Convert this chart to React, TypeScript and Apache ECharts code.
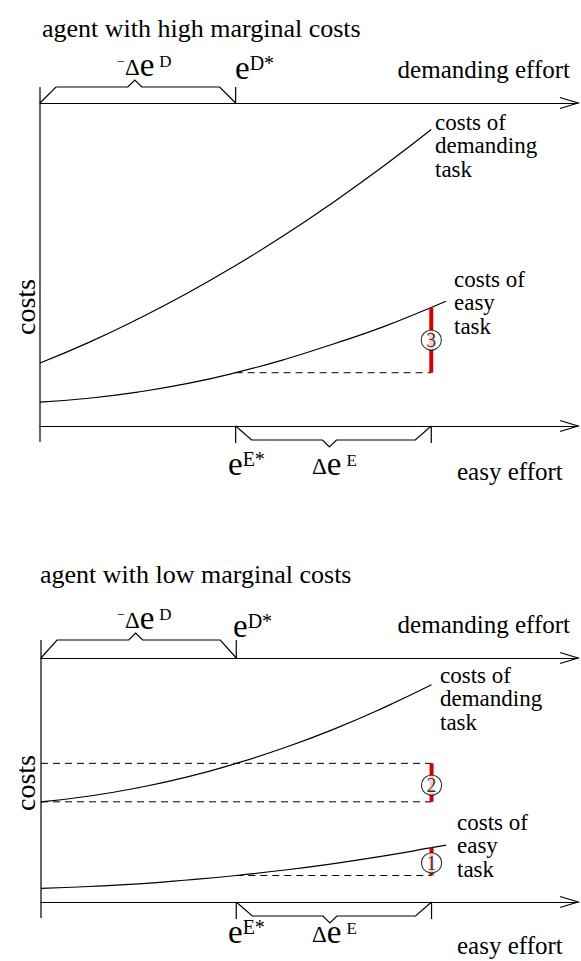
import { useEffect, useRef } from "react";
import * as echarts from "echarts";

// ---------- data ----------
const EFFORT_MAX = 11;
const HIGH_COST_MAX = 10;
const LOW_COST_MAX = 7.55;

const demandingEffort = [0, 1, 2, 3, 4, 5, 6, 7, 8];
const easyEffort = [0, 1, 2, 3, 4, 5, 6, 7, 8, 8.3];

// agent with high marginal costs
const highDemandingCost = [1.95, 2.59, 3.31, 4.1, 4.97, 5.91, 6.93, 8.02, 9.18];
const highEasyCost = [0.74, 0.86, 1.05, 1.31, 1.65, 2.06, 2.54, 3.06, 3.67, 3.86];

// agent with low marginal costs
const lowDemandingCost = [3.1, 3.28, 3.54, 3.87, 4.29, 4.78, 5.35, 6.0, 6.72];
const lowEasyCost = [0.42, 0.48, 0.56, 0.68, 0.82, 0.99, 1.19, 1.42, 1.68, 1.76];

// optimal efforts and changes
const eDStar = 4;
const deltaD = -4;
const eEStar = 4;
const deltaE = 4;

const titles = ["agent with high marginal costs", "agent with low marginal costs"];
const markerLabels = ["3", "2", "1"];

// ---------- helpers ----------
const FF = "Liberation Serif";
const RED = "#d40000";

const pairs = (xs: number[], ys: number[]) => xs.map((x, i) => [x, ys[i]]);
const at = (xs: number[], ys: number[], x: number) => ys[xs.indexOf(x)];

function curve(xi: number, yi: number, xs: number[], ys: number[]) {
  return {
    type: "line",
    xAxisIndex: xi,
    yAxisIndex: yi,
    data: pairs(xs, ys),
    smooth: true,
    symbol: "none",
    silent: true,
    lineStyle: { color: "#000", width: 1.2 },
    z: 3,
  };
}
function dashed(xi: number, yi: number, x1: number, x2: number, y: number) {
  return {
    type: "line",
    xAxisIndex: xi,
    yAxisIndex: yi,
    data: [
      [x1, y],
      [x2, y],
    ],
    symbol: "none",
    silent: true,
    lineStyle: { color: "#000", width: 1, type: [7, 5] },
    z: 2,
  };
}
function redBar(xi: number, yi: number, x: number, y1: number, y2: number) {
  return {
    type: "line",
    xAxisIndex: xi,
    yAxisIndex: yi,
    data: [
      [x, y1],
      [x, y2],
    ],
    symbol: "none",
    silent: true,
    lineStyle: { color: RED, width: 4, cap: "butt" },
    z: 4,
  };
}
function marker(xi: number, yi: number, x: number, y: number, label: string) {
  return {
    type: "scatter",
    xAxisIndex: xi,
    yAxisIndex: yi,
    data: [[x, y]],
    symbol: "circle",
    symbolSize: 20,
    silent: true,
    itemStyle: { color: "#fff", borderColor: "#000", borderWidth: 1.1 },
    label: {
      show: true,
      position: "inside",
      formatter: label,
      color: "#000",
      fontSize: 20,
      fontFamily: FF,
    },
    z: 5,
  };
}

function T(x: number, base: number, text: string, fs: number, align = "left", lh = 0) {
  const lineH = lh || fs;
  return {
    type: "text",
    x,
    y: base - 0.34 * fs - lineH / 2,
    silent: true,
    style: {
      text,
      fontSize: fs,
      lineHeight: lineH,
      fontFamily: FF,
      fill: "#000",
      align,
      verticalAlign: "top",
    },
  };
}
function Tr(x: number, y: number, text: string, fs: number) {
  return {
    type: "text",
    x,
    y,
    rotation: Math.PI / 2,
    silent: true,
    style: {
      text,
      fontSize: fs,
      fontFamily: FF,
      fill: "#000",
      align: "center",
      verticalAlign: "middle",
    },
  };
}
const RICH = {
  e: { fontSize: 33, lineHeight: 34, fontFamily: FF, fill: "#000" },
  d: { fontSize: 23, fontFamily: FF, fill: "#000", verticalAlign: "top", padding: [8, 0, 0, 0] },
  m: { fontSize: 14, fontFamily: FF, fill: "#000", verticalAlign: "top", padding: [7, 0, 0, 0] },
  s: { fontSize: 17, fontFamily: FF, fill: "#000", verticalAlign: "top", padding: [5.5, 0, 0, 5] },
  S: { fontSize: 20, fontFamily: FF, fill: "#000", verticalAlign: "top", padding: [2.5, 0, 0, 0] },
};
function R(x: number, eBase: number, text: string) {
  return {
    type: "text",
    x,
    y: eBase - 0.34 * 33,
    silent: true,
    style: {
      text,
      rich: RICH,
      fontSize: 33,
      fontFamily: FF,
      fill: "#000",
      align: "left",
      verticalAlign: "middle",
    },
  };
}

const LS = { stroke: "#000", lineWidth: 1.2, fill: null };
function pline(points: number[][]) {
  return { type: "polyline", silent: true, shape: { points }, style: LS };
}
function seg(x1: number, y1: number, x2: number, y2: number) {
  return { type: "line", silent: true, shape: { x1, y1, x2, y2 }, style: LS };
}
function brace(xa: number, xb: number, y: number, dir: number, h: number, notchShift: number) {
  const xm = (xa + xb) / 2 + notchShift;
  return pline([
    [xa, y],
    [xa + 16, y + dir * h],
    [xm - 7, y + dir * h],
    [xm, y + dir * (h + 7)],
    [xm + 7, y + dir * h],
    [xb - 16, y + dir * h],
    [xb, y],
  ]);
}
function arrow(xTip: number, y: number) {
  return pline([
    [xTip - 18, y - 5.5],
    [xTip, y],
    [xTip - 18, y + 5.5],
  ]);
}

export default function App() {
  const ref = useRef<HTMLDivElement>(null);
  useEffect(() => {
    const chart = echarts.init(ref.current!, null, { renderer: "svg" });
    const axisCommon = {
      type: "value",
      min: 0,
      max: EFFORT_MAX,
      axisTick: { show: false },
      axisLabel: { show: false },
      splitLine: { show: false },
      axisLine: { show: true, onZero: false, lineStyle: { color: "#000", width: 1.2 } },
    };
    const yCommon = { type: "value", min: 0, show: false, splitLine: { show: false } };

    const hiEasyAtStar = at(easyEffort, highEasyCost, eEStar);
    const hiEasyAtNew = at(easyEffort, highEasyCost, eEStar + deltaE);
    const loDemAtStar = at(demandingEffort, lowDemandingCost, eDStar);
    const loDemAtNew = at(demandingEffort, lowDemandingCost, eDStar + deltaD);
    const loEasyAtStar = at(easyEffort, lowEasyCost, eEStar);
    const loEasyAtNew = at(easyEffort, lowEasyCost, eEStar + deltaE);
    const xMark = eEStar + deltaE;

    chart.setOption({
      animation: false,
      backgroundColor: "#fff",
      grid: [
        { left: 40, top: 103, width: 538, height: 323 },
        { left: 41, top: 658, width: 537, height: 244 },
      ],
      xAxis: [
        { ...axisCommon, gridIndex: 0, position: "bottom" },
        { ...axisCommon, gridIndex: 0, position: "top" },
        { ...axisCommon, gridIndex: 1, position: "bottom" },
        { ...axisCommon, gridIndex: 1, position: "top" },
      ],
      yAxis: [
        { ...yCommon, gridIndex: 0, max: HIGH_COST_MAX },
        { ...yCommon, gridIndex: 1, max: LOW_COST_MAX },
      ],
      series: [
        curve(1, 0, demandingEffort, highDemandingCost),
        curve(0, 0, easyEffort, highEasyCost),
        dashed(0, 0, eEStar, xMark, hiEasyAtStar),
        redBar(0, 0, xMark, hiEasyAtStar, hiEasyAtNew),
        marker(0, 0, xMark, (hiEasyAtStar + hiEasyAtNew) / 2, markerLabels[0]),
        curve(3, 1, demandingEffort, lowDemandingCost),
        curve(2, 1, easyEffort, lowEasyCost),
        dashed(3, 1, 0, xMark, loDemAtStar),
        dashed(3, 1, 0, xMark, loDemAtNew),
        redBar(3, 1, xMark, loDemAtNew, loDemAtStar),
        marker(3, 1, xMark, (loDemAtNew + loDemAtStar) / 2 - 0.08, markerLabels[1]),
        dashed(2, 1, eEStar, xMark, loEasyAtStar),
        redBar(2, 1, xMark, loEasyAtStar, loEasyAtNew),
        marker(2, 1, xMark, (loEasyAtStar + loEasyAtNew) / 2 - 0.04, markerLabels[2]),
      ],
    });

    const px = (xi: number, v: number) => chart.convertToPixel({ xAxisIndex: xi }, v) as number;
    const py = (yi: number, v: number) => chart.convertToPixel({ yAxisIndex: yi }, v) as number;

    const g: any[] = [];
    const panels = [
      { xi: 0, yi: 0, max: HIGH_COST_MAX, topH: 16 },
      { xi: 2, yi: 1, max: LOW_COST_MAX, topH: 18 },
    ];
    panels.forEach((p) => {
      const x0 = px(p.xi, 0);
      const xEnd = px(p.xi, EFFORT_MAX);
      const yTop = py(p.yi, p.max);
      const yBot = py(p.yi, 0);
      const xD = px(p.xi, eDStar);
      const xE = px(p.xi, eEStar);
      const xE2 = px(p.xi, eEStar + deltaE);
      g.push(seg(x0, yTop - p.topH, x0, yBot + 16));
      g.push(arrow(xEnd, yTop));
      g.push(arrow(xEnd, yBot));
      g.push(brace(x0, xD, yTop, -1, p.topH, -3));
      g.push(seg(xD, yTop - p.topH, xD, yTop));
      g.push(brace(xE, xE2, yBot, 1, 14, -4));
      g.push(seg(xE, yBot, xE, yBot + 17));
      g.push(seg(xE2, yBot, xE2, yBot + 17));
    });

    const LH = 23.5;
    const LF = 23;
    g.push(T(42, 37, titles[0], 26));
    g.push(T(570, 78, "demanding effort", 25, "right"));
    g.push(R(117, 76, "{m|\u2212}{d|\u0394}{e|e}{s|D}"));
    g.push(R(235, 79, "{e|e}{S|D*}"));
    g.push(Tr(25, 307, "costs", 28));
    g.push(T(435, 130, "costs of\ndemanding\ntask", LF, "left", LH));
    g.push(T(454, 287, "costs of\neasy\ntask", LF, "left", LH));
    g.push(R(228, 475, "{e|e}{S|E*}"));
    g.push(R(312, 475, "{d|\u0394}{e|e}{s|E}"));
    g.push(T(457, 480, "easy effort", 25));

    g.push(T(40, 583, titles[1], 26));
    g.push(T(570, 633, "demanding effort", 25, "right"));
    g.push(R(117, 629, "{m|\u2212}{d|\u0394}{e|e}{s|D}"));
    g.push(R(233, 637, "{e|e}{S|D*}"));
    g.push(Tr(25, 783, "costs", 28));
    g.push(T(440, 683, "costs of\ndemanding\ntask", LF, "left", LH));
    g.push(T(457, 830, "costs of\neasy\ntask", LF, "left", LH));
    g.push(R(228, 943, "{e|e}{S|E*}"));
    g.push(R(312, 943, "{d|\u0394}{e|e}{s|E}"));
    g.push(T(457, 954, "easy effort", 25));

    chart.setOption({ graphic: g });
    return () => chart.dispose();
  }, []);

  return (
    <div
      ref={ref}
      style={{ position: "absolute", left: 0, top: 0, width: 581, height: 961, background: "#fff" }}
    />
  );
}
